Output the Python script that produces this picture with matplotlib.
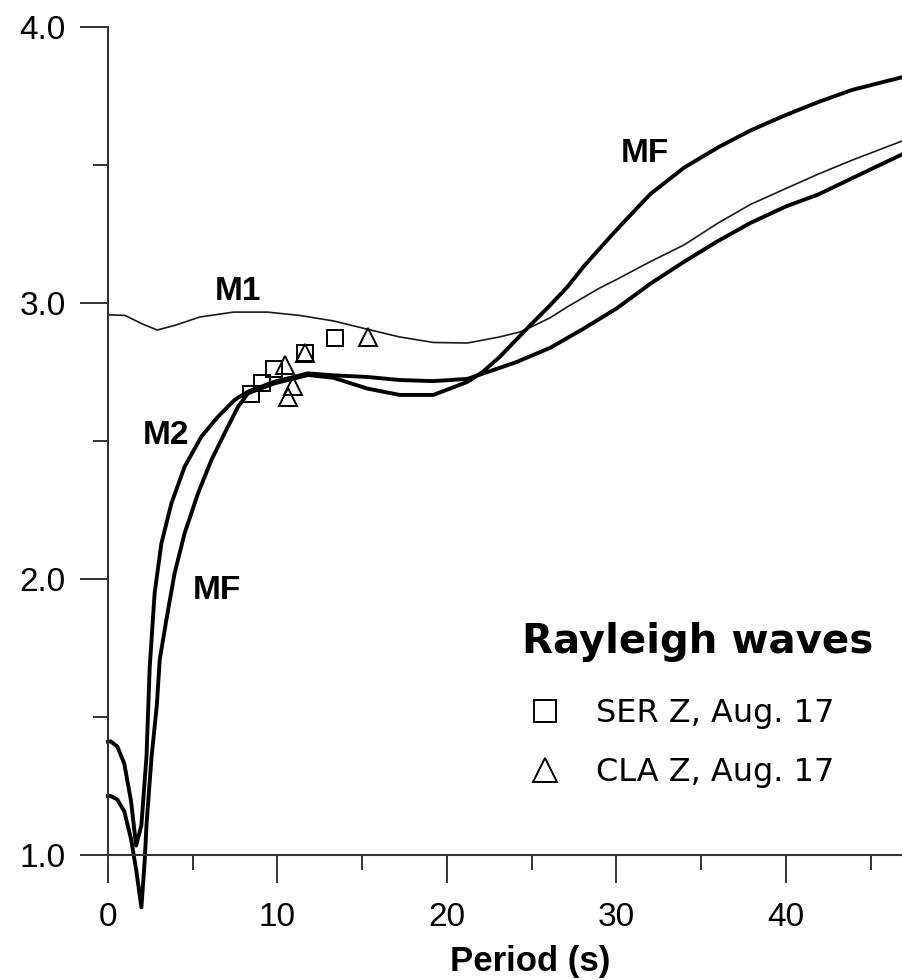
import matplotlib
matplotlib.use("Agg")
import matplotlib.pyplot as plt

plt.rcParams['font.family'] = ['Liberation Sans', 'DejaVu Sans']

# ---- data ----
m1_x = [0, 1.0, 2.0, 2.9, 4.0, 5.4, 7.4, 9.4, 11.3, 13.3, 15.3, 17.2, 19.2, 21.2,
        23.1, 24.3, 25.1, 26.1, 27.1, 29.0, 30.0, 32.0, 34.0, 36.0, 37.9, 40.0,
        41.9, 44.0, 46.9]
m1_y = [2.957, 2.955, 2.925, 2.902, 2.92, 2.949, 2.967, 2.967, 2.955, 2.935, 2.905,
        2.877, 2.857, 2.855, 2.877, 2.895, 2.917, 2.947, 2.986, 3.054, 3.085, 3.15,
        3.211, 3.29, 3.357, 3.415, 3.467, 3.52, 3.588]

m2_x = [0, 0.15, 0.55, 0.96, 1.36, 1.66, 1.97, 2.27, 2.46, 2.75, 3.15, 3.74, 4.52,
        5.51, 6.49, 7.47, 8.26, 9.83, 11.8, 13.3, 15.3, 17.2, 19.2, 21.2, 22.4, 24.1,
        26.1, 28.0, 30.0, 32.0, 34.0, 36.0, 37.9, 40.0, 41.9, 44.0, 46.9]
m2_y = [1.41, 1.412, 1.393, 1.331, 1.195, 1.034, 1.108, 1.356, 1.68, 1.948, 2.129,
        2.274, 2.407, 2.516, 2.588, 2.649, 2.679, 2.715, 2.745, 2.738, 2.732, 2.721,
        2.717, 2.725, 2.75, 2.786, 2.838, 2.905, 2.98, 3.07, 3.15, 3.225, 3.29, 3.35,
        3.393, 3.455, 3.54]

mf_x = [0, 0.15, 0.55, 0.96, 1.36, 1.66, 1.97, 2.17, 2.27, 2.57, 2.88, 3.05, 3.44,
        3.93, 4.52, 5.31, 6.1, 6.88, 7.67, 8.26, 9.83, 11.8, 13.3, 15.3, 17.2, 19.2,
        21.2, 22.1, 23.1, 24.1, 25.1, 26.1, 27.1, 28.1, 30.0, 32.0, 34.0, 36.0, 37.9,
        39.9, 41.9, 43.9, 46.9]
mf_y = [1.214, 1.214, 1.201, 1.158, 1.058, 0.947, 0.81, 0.984, 1.108, 1.356, 1.542,
        1.707, 1.851, 2.021, 2.166, 2.31, 2.431, 2.528, 2.624, 2.673, 2.709, 2.739,
        2.729, 2.69, 2.667, 2.667, 2.714, 2.75, 2.804, 2.868, 2.931, 2.993, 3.058,
        3.135, 3.265, 3.395, 3.491, 3.564, 3.625, 3.679, 3.728, 3.772, 3.819]

ser_x = [8.44, 9.09, 9.79, 11.62, 13.39]
ser_y = [2.670, 2.710, 2.761, 2.819, 2.873]
cla_x = [10.44, 10.91, 10.62, 11.62, 15.34]
cla_y = [2.775, 2.699, 2.659, 2.819, 2.877]

x_major = [0, 10, 20, 30, 40]
x_minor = [5, 15, 25, 35, 45]
y_major = [1.0, 2.0, 3.0, 4.0]
y_minor = [1.5, 2.5, 3.5]
y_labels = ['1.0', '2.0', '3.0', '4.0']

# ---- figure ----
W, H = 903, 980
fig = plt.figure(figsize=(W / 100, H / 100), dpi=100)
x0, x1, y0, y1 = 108, 903, 855, 27
ax = fig.add_axes([x0 / W, (H - y0) / H, (x1 - x0) / W, (y0 - y1) / H])
ax.set_xlim(0, (x1 - x0) / 16.95)
ax.set_ylim(1.0, 4.0)

ax.plot(m1_x, m1_y, color='#1a1a1a', lw=1.2, clip_on=False)
ax.plot(m2_x, m2_y, color='black', lw=2.8, clip_on=False)
ax.plot(mf_x, mf_y, color='black', lw=2.8, clip_on=False)
ser = ax.plot(ser_x, ser_y, ls='none', marker='s', ms=12, mfc='none', mec='black',
              mew=1.4, clip_on=False, label='SER Z, Aug. 17')[0]
cla = ax.plot(cla_x, cla_y, ls='none', marker='^', ms=13, mfc='none', mec='black',
              mew=1.4, clip_on=False, label='CLA Z, Aug. 17')[0]

for s in ['top', 'right']:
    ax.spines[s].set_visible(False)
for s in ['left', 'bottom']:
    ax.spines[s].set_linewidth(1.5)
    ax.spines[s].set_color('#333333')

ax.set_xticks(x_major)
ax.set_xticks(x_minor, minor=True)
ax.set_yticks(y_major)
ax.set_yticklabels(y_labels)
ax.set_yticks(y_minor, minor=True)
ax.tick_params(axis='both', which='major', direction='out', length=20, width=1.4,
               color='#333333', labelsize=24)
ax.tick_params(axis='both', which='minor', direction='out', length=10.5, width=1.4,
               color='#333333')
ax.tick_params(axis='y', which='major', pad=10.5)
ax.tick_params(axis='x', which='major', pad=14)
ax.set_xlabel('Period (s)', fontsize=25, fontweight='bold')
ax.xaxis.set_label_coords((530 - x0) / (x1 - x0), (y0 - 945) / (y0 - y1))

ax.text(7.67, 3.04, 'M1', fontsize=24, fontweight='bold', ha='center', va='center')
ax.text(3.42, 2.52, 'M2', fontsize=24, fontweight='bold', ha='center', va='center')
ax.text(6.4, 1.96, 'MF', fontsize=24, fontweight='bold', ha='center', va='center')
ax.text(31.7, 3.54, 'MF', fontsize=24, fontweight='bold', ha='center', va='center')

# legend: title as its own text, entries as a legend below it
ax.text((522 - x0) / (x1 - x0), (y0 - 653) / (y0 - y1), 'Rayleigh waves',
        transform=ax.transAxes, ha='left', va='baseline',
        family='DejaVu Sans', fontsize=29, fontweight='bold')
leg = ax.legend(handles=[ser, cla], loc='upper left',
                bbox_to_anchor=((521 - x0) / (x1 - x0), (y0 - 698) / (y0 - y1)),
                frameon=False, prop={'family': 'DejaVu Sans', 'size': 23},
                handletextpad=0.85, labelspacing=0.88,
                markerscale=1.3, handlelength=1.5, borderpad=0, borderaxespad=0)

fig.savefig('out.png', dpi=100)
